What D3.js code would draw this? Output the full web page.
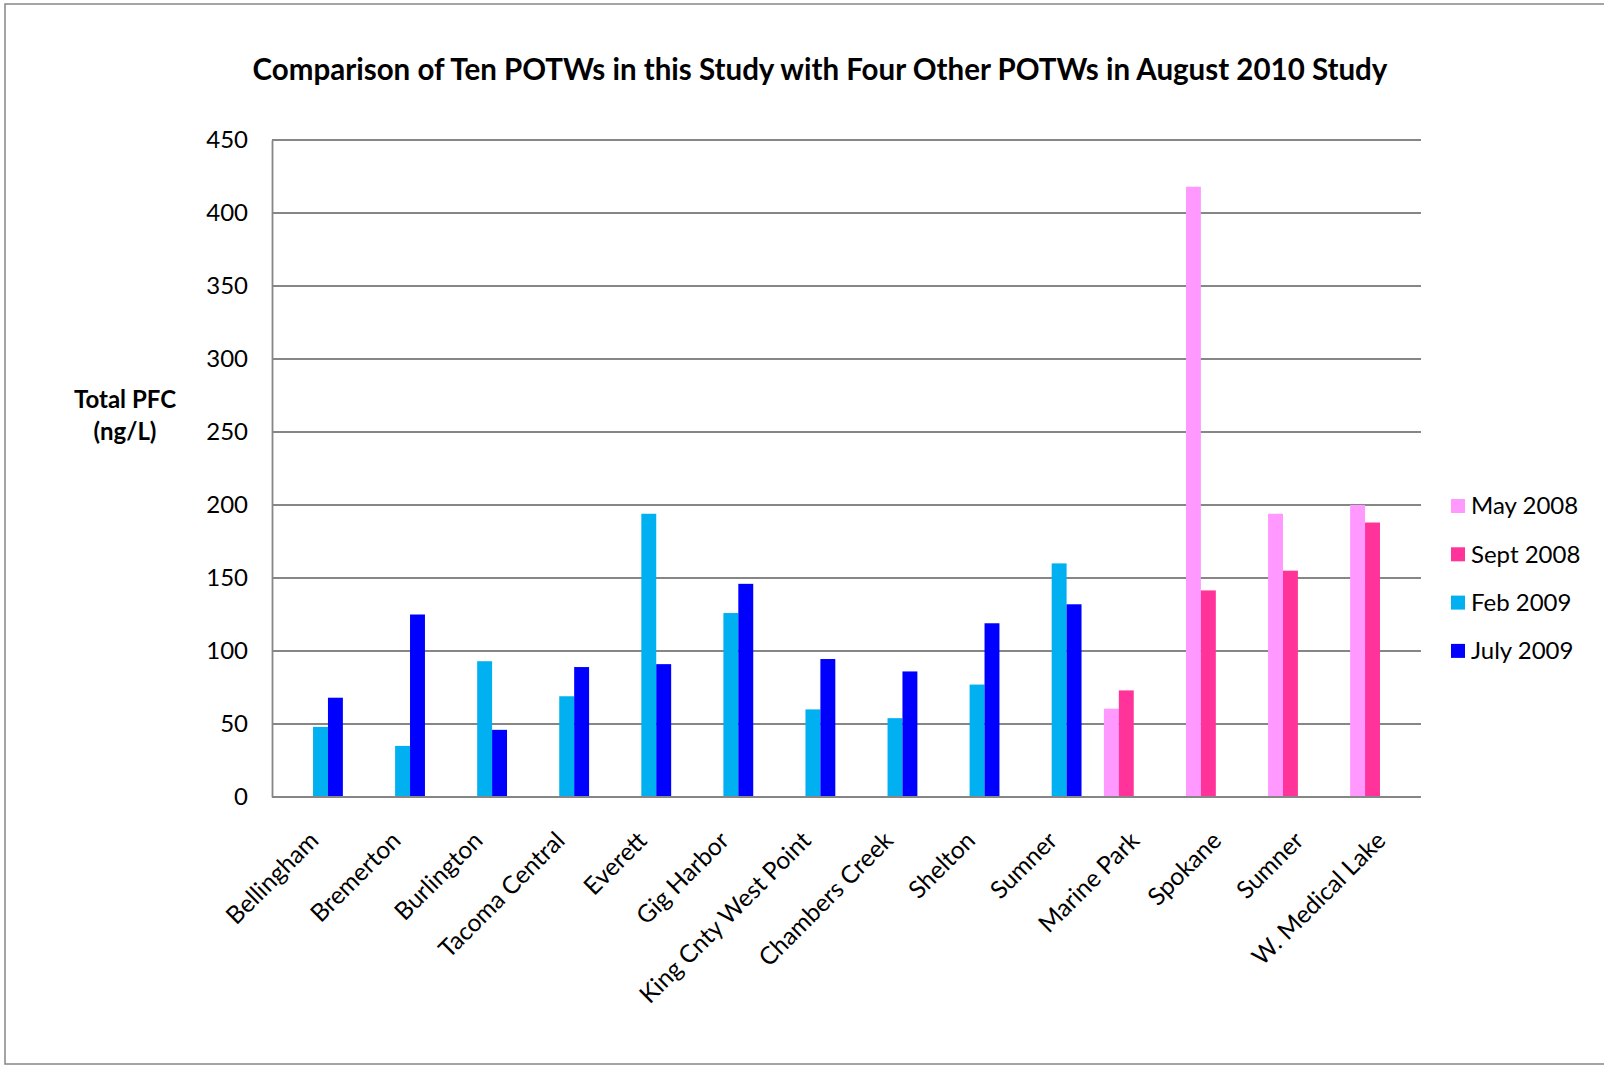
<!DOCTYPE html>
<html>
<head>
<meta charset="utf-8">
<script src="https://cdn.jsdelivr.net/npm/d3@7"></script>
<style>
  body { margin: 0; background: #fff; }
  text { font-family: Lato, "Open Sans", sans-serif; fill: #000; }
</style>
</head>
<body>
<script>
// data
var categories = ['Bellingham', 'Bremerton', 'Burlington', 'Tacoma Central', 'Everett', 'Gig Harbor',
  'King Cnty West Point', 'Chambers Creek', 'Shelton', 'Sumner', 'Marine Park', 'Spokane', 'Sumner', 'W. Medical Lake'];
var seriesNames = ['May 2008', 'Sept 2008', 'Feb 2009', 'July 2009'];
var seriesColors = ['#ff99ff', '#ff3399', '#00b0f0', '#0000ff'];
var may2008 = [null, null, null, null, null, null, null, null, null, null, 60.5, 418, 194, 200];
var sept2008 = [null, null, null, null, null, null, null, null, null, null, 73, 141.5, 155, 188];
var feb2009 = [48, 35, 93, 69, 194, 126, 60, 54, 77, 160, null, null, null, null];
var july2009 = [68, 125, 46, 89, 91, 146, 94.5, 86, 119, 132, null, null, null, null];
var yTicks = [0, 50, 100, 150, 200, 250, 300, 350, 400, 450];

var series = [may2008, sept2008, feb2009, july2009];

var W = 1604, H = 1066;
var svg = d3.select('body').append('svg').attr('width', W).attr('height', H);

// outer chart border
svg.append('rect')
  .attr('x', 5).attr('y', 4)
  .attr('width', W + 10).attr('height', 1060)
  .attr('fill', '#fff')
  .attr('stroke', '#868686')
  .attr('stroke-width', 1.5);

var plotLeft = 272, plotRight = 1421, plotTop = 140, plotBottom = 797;

var x0 = d3.scaleBand()
  .domain(d3.range(categories.length))
  .range([plotLeft, plotRight])
  .paddingInner(1.5 / 5.5)
  .paddingOuter(0.75 / 5.5);

var x1 = d3.scaleBand()
  .domain(d3.range(seriesNames.length))
  .range([0, x0.bandwidth()]);

var y = d3.scaleLinear().domain([0, 450]).range([plotBottom, plotTop]);

// gridlines
svg.append('g')
  .selectAll('line')
  .data(yTicks)
  .enter()
  .append('line')
  .attr('x1', plotLeft).attr('x2', plotRight)
  .attr('y1', function (d) { return y(d); })
  .attr('y2', function (d) { return y(d); })
  .attr('stroke', '#868686')
  .attr('stroke-width', 1.8);

// y axis
var yAxis = svg.append('g')
  .attr('transform', 'translate(' + plotLeft + ',0)')
  .call(d3.axisLeft(y).tickValues(yTicks).tickSize(0).tickPadding(24));
yAxis.select('.domain').attr('stroke', '#868686').attr('stroke-width', 1.8);
yAxis.selectAll('text')
  .attr('font-family', 'Lato, sans-serif')
  .attr('font-size', '24px')
  .attr('fill', '#000');

// bars
var groups = svg.append('g')
  .selectAll('g')
  .data(series)
  .enter()
  .append('g')
  .attr('fill', function (d, i) { return seriesColors[i]; });

groups.each(function (vals, si) {
  d3.select(this)
    .selectAll('rect')
    .data(vals.map(function (v, ci) { return { v: v, ci: ci }; }).filter(function (d) { return d.v != null; }))
    .enter()
    .append('rect')
    .attr('x', function (d) { return x0(d.ci) + x1(si); })
    .attr('y', function (d) { return y(d.v); })
    .attr('width', x1.bandwidth())
    .attr('height', function (d) { return y(0) - y(d.v); });
});

// x axis line
svg.append('line')
  .attr('x1', plotLeft).attr('x2', plotRight)
  .attr('y1', plotBottom).attr('y2', plotBottom)
  .attr('stroke', '#868686')
  .attr('stroke-width', 1.8);

// category labels
svg.append('g')
  .selectAll('text')
  .data(categories)
  .enter()
  .append('text')
  .attr('transform', function (d, i) {
    var cx = x0(i) + x0.bandwidth() / 2;
    return 'translate(' + (cx + 1) + ',' + (plotBottom + 39) + ') rotate(-45)';
  })
  .attr('text-anchor', 'end')
  .attr('dy', '0.35em')
  .attr('font-size', '24.5px')
  .text(function (d) { return d; });

// title
svg.append('text')
  .attr('x', 820).attr('y', 80)
  .attr('text-anchor', 'middle')
  .attr('font-size', '29.5px')
  .attr('font-weight', 'bold')
  .text('Comparison of Ten POTWs in this Study with Four Other POTWs in August 2010 Study');

// y axis title
var yt = svg.append('text')
  .attr('text-anchor', 'middle')
  .attr('font-size', '24px')
  .attr('font-weight', 'bold');
yt.append('tspan').attr('x', 125).attr('y', 408).text('Total PFC');
yt.append('tspan').attr('x', 125).attr('y', 440).text('(ng/L)');

// legend
var legend = svg.append('g')
  .selectAll('g')
  .data(seriesNames)
  .enter()
  .append('g')
  .attr('transform', function (d, i) { return 'translate(1451,' + (506 + i * 48.3) + ')'; });
legend.append('rect')
  .attr('x', 0).attr('y', -7)
  .attr('width', 14).attr('height', 14)
  .attr('fill', function (d, i) { return seriesColors[i]; });
legend.append('text')
  .attr('x', 20).attr('dy', '0.35em')
  .attr('font-size', '24px')
  .text(function (d) { return d; });
</script>
</body>
</html>
